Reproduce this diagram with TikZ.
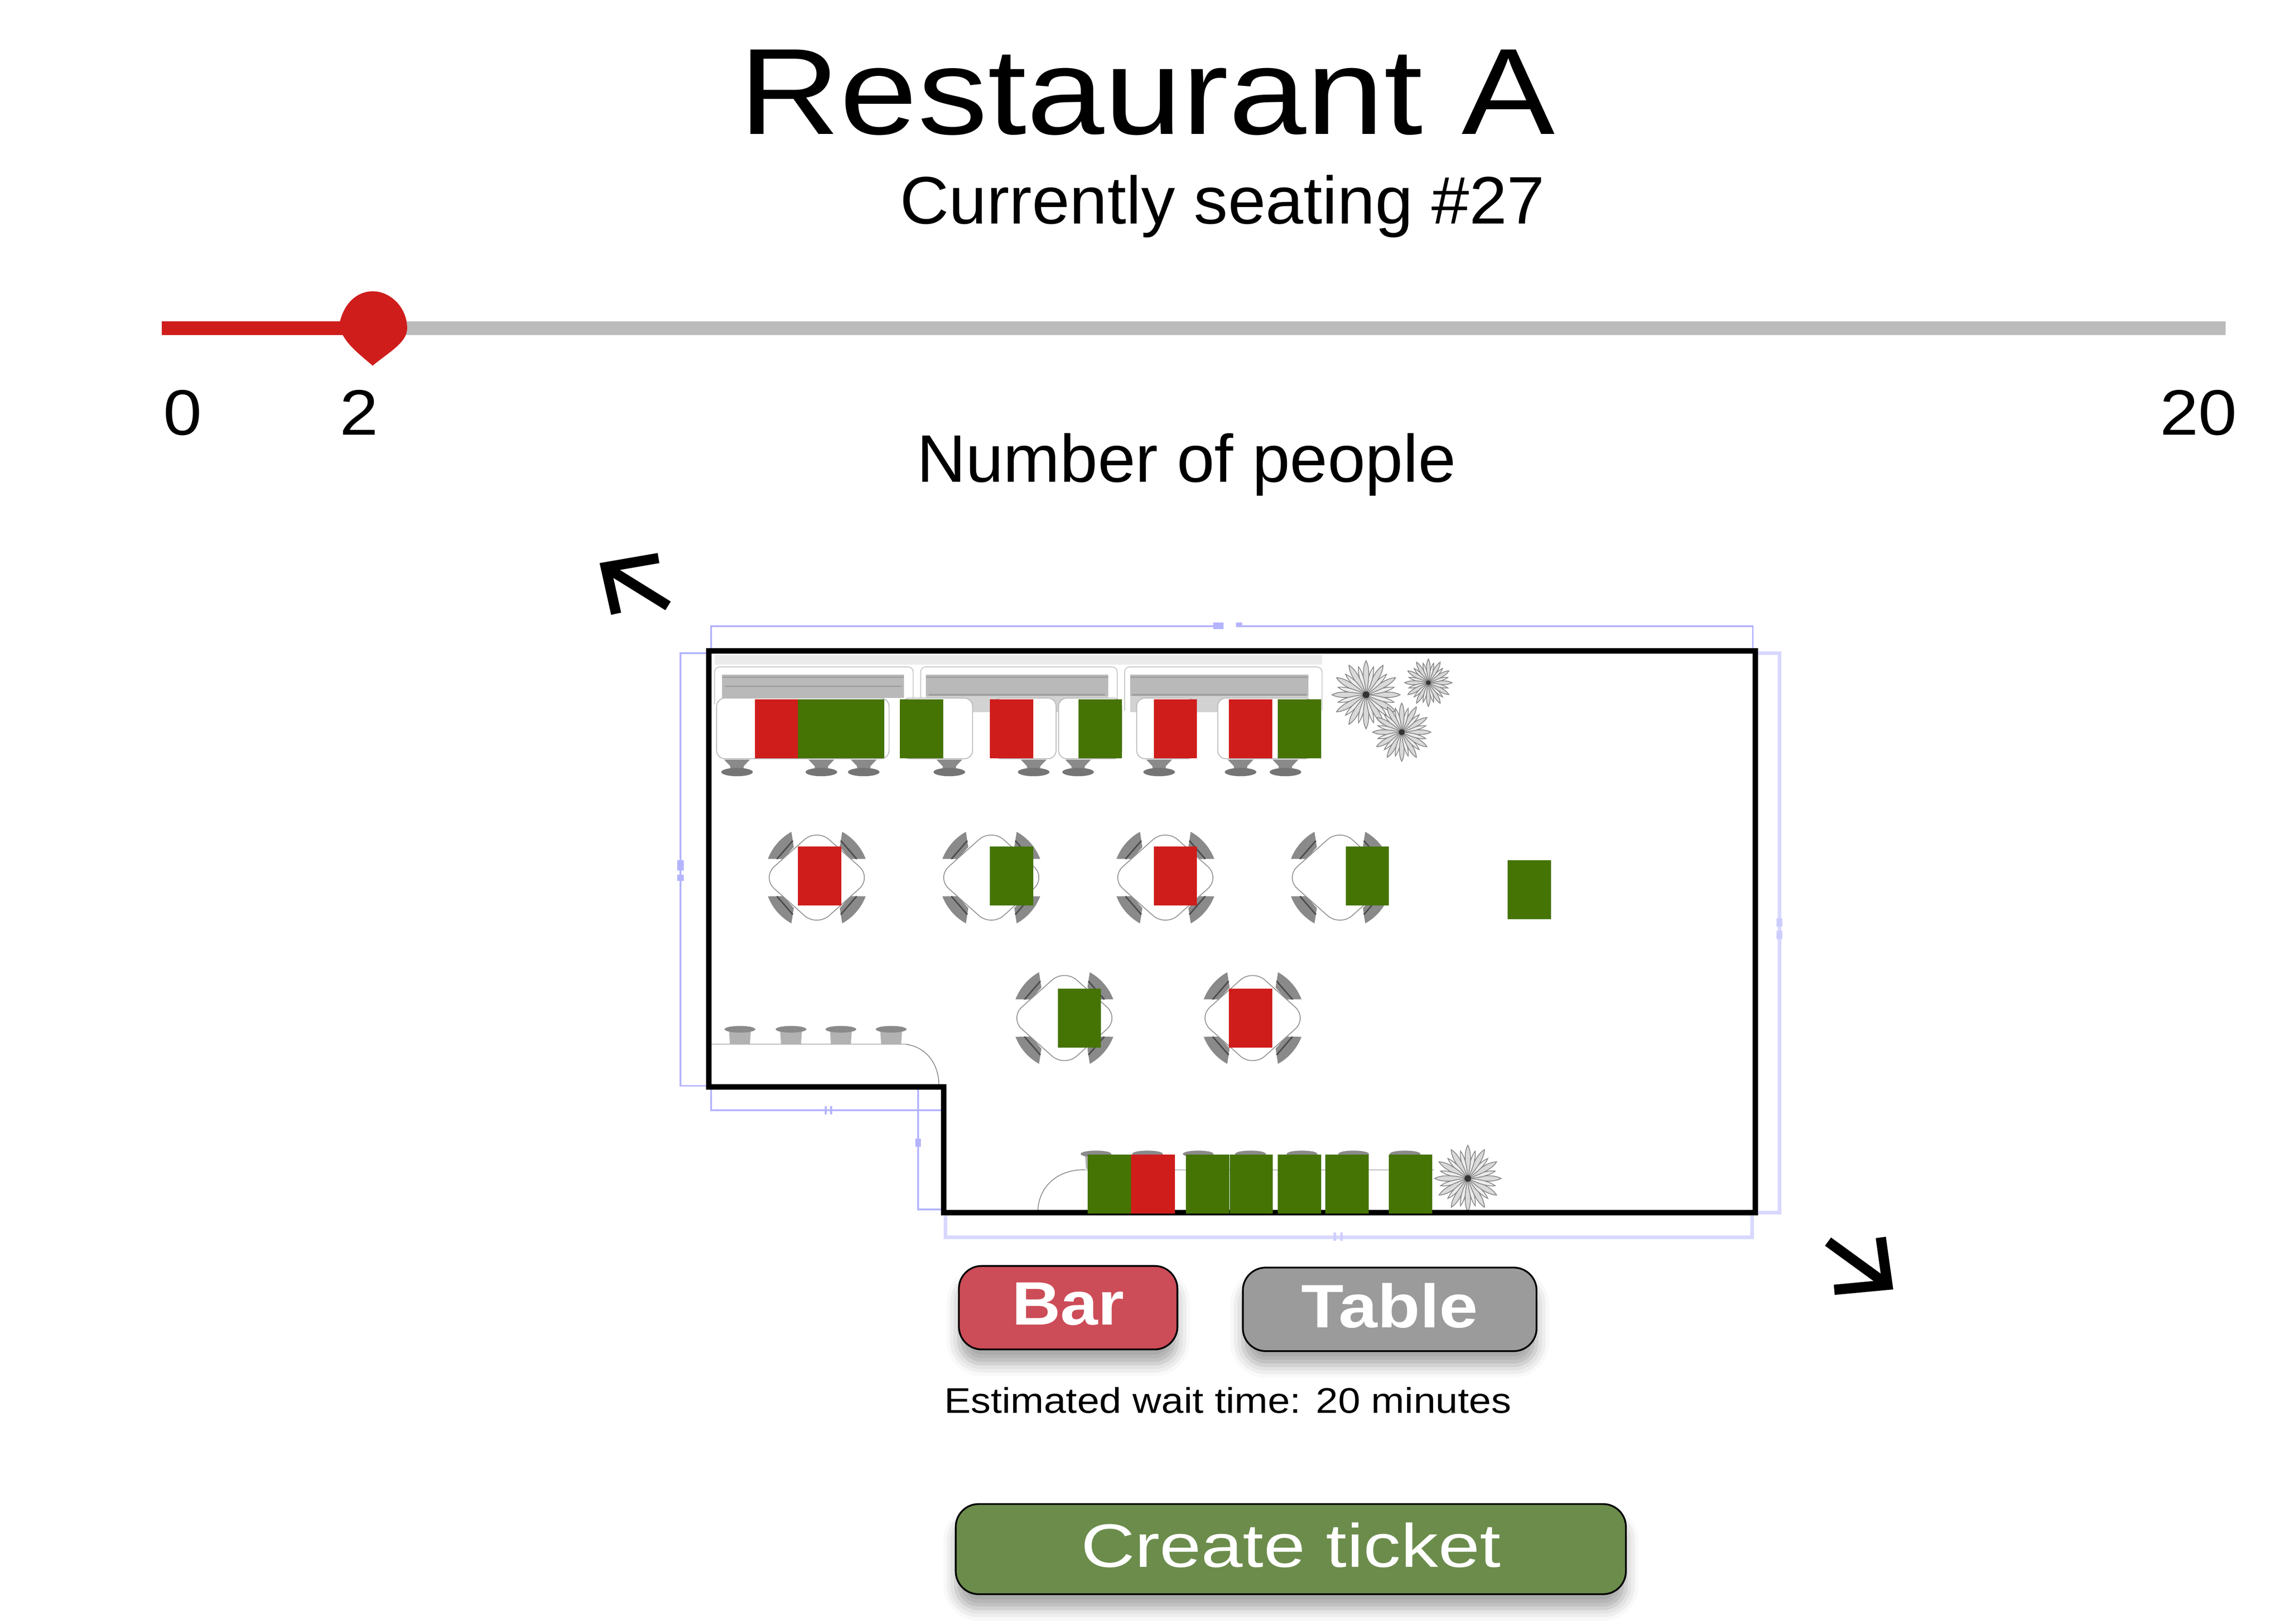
\documentclass[tikz,border=0pt]{standalone}
\usepackage{fontspec}
\setmainfont{Liberation Sans}
\usetikzlibrary{shadows.blur}
\newcommand{\uisize}[2]{\fontsize{#1}{#1}\selectfont\addfontfeature{FakeStretch=#2}}
\definecolor{seatred}{HTML}{CF1D1B}
\definecolor{seatgreen}{HTML}{457404}
\definecolor{barred}{HTML}{CC4C58}
\definecolor{tablegray}{HTML}{9B9B9B}
\definecolor{ticketgreen}{HTML}{6C8C4C}
\definecolor{trackgray}{HTML}{BBBBBB}
\definecolor{dimblue}{HTML}{B4B4FF}
\definecolor{dimpale}{HTML}{D8D8FF}
\definecolor{chairgray}{HTML}{8A8A8A}
\tikzset{
  stool/.pic={
    \fill[chairgray] (-.31,.2) -- (.31,.2) -- (.16,.04) -- (.16,-.1) -- (-.16,-.1) -- (-.16,.04) -- cycle;
    \fill[chairgray!85!black] (0,-.1) ellipse (.38 and .1);
  },
  barstool/.pic={
    \fill[gray!60] (-.27,0) -- (.27,0) -- (.24,-.42) -- (-.24,-.42) -- cycle;
    \fill[chairgray] (0,-.06) ellipse (.37 and .08);
  },
  tablechair/.pic={
    \fill[chairgray] (-20:1.26) arc[start angle=-20,end angle=20,radius=1.26] -- (12:.92) -- (-12:.92) -- cycle;
    \draw[gray!60!black,line width=1pt] (-16:1.06) -- (16:1.06);
  },
  roundtable/.pic={
    \pic[rotate=41] {tablechair};
    \pic[rotate=139] {tablechair};
    \pic[rotate=221] {tablechair};
    \pic[rotate=319] {tablechair};
    \draw[gray!85,line width=.6pt,fill=white,rounded corners=.4cm] (-1.32,0) -- (0,1.18) -- (1.32,0) -- (0,-1.18) -- cycle;
  },
  plant/.pic={
    \foreach \a in {0,30,...,330} {
      \draw[gray,line width=.5pt,fill=gray!30] (0,0) .. controls ({\a+12}:.5) and ({\a+8}:.8) .. (\a:1) .. controls ({\a-8}:.8) and ({\a-12}:.5) .. (0,0);
      \draw[gray,line width=.5pt,fill=gray!15] (0,0) .. controls ({\a+26}:.4) and ({\a+22}:.65) .. ({\a+15}:.85) .. controls ({\a+8}:.65) and ({\a+4}:.4) .. (0,0);
    }
    \fill[black!80] (0,0) circle (.1);
  },
  bigtext/.style={anchor=base west,inner sep=0pt},
  pushbutton/.style={draw=black,line width=1.2pt,rounded corners=.55cm,text=white,text depth=.2cm,
    blur shadow={shadow xshift=0pt,shadow yshift=-.34cm,shadow blur radius=.3cm,shadow opacity=35}},
  viewarrow/.style={line width=7pt,black,miter limit=10},
  wall/.style={line width=3.8pt,black,miter limit=10},
  dimline/.style={dimblue,line width=1.2pt},
  dimthick/.style={dimpale,line width=2.6pt},
  seat/.style={minimum width=1.04cm,minimum height=1.42cm,inner sep=0pt,outer sep=0pt}
}
\begin{document}
\begin{tikzpicture}
  \useasboundingbox (0,0) rectangle (55,-39.08);

  \node[bigtext,font=\uisize{84}{1.14}] (title) at (17.78,-3.23) {Restaurant A};
  \node[bigtext,font=\uisize{46}{1.01}] (seating) at (21.66,-5.38) {Currently seating \#27};

  \coordinate (trackstart) at (3.89,-7.9);
  \coordinate (trackend) at (53.57,-7.9);
  \coordinate (knob) at (8.97,-7.9);
  \draw[trackgray,line width=9.4pt] (trackstart) -- (trackend);
  \draw[seatred,line width=9.4pt] (trackstart) -- (knob);
  \fill[seatred] (8.16,-7.85) .. controls (8.25,-7.3) and (8.6,-7.01) .. (8.97,-7.01)
    .. controls (9.4,-7.01) and (9.8,-7.4) .. (9.8,-7.9)
    .. controls (9.8,-8.25) and (9.35,-8.48) .. (8.97,-8.8)
    .. controls (8.6,-8.48) and (8.28,-8.25) .. (8.16,-7.85) -- cycle;
  \node[bigtext,font=\uisize{44}{1.08}] (zero) at (3.92,-10.47) {0};
  \node[bigtext,font=\uisize{44}{1.08}] (two) at (8.17,-10.47) {2};
  \node[bigtext,font=\uisize{44}{1.08}] (twenty) at (51.98,-10.47) {20};
  \node[bigtext,font=\uisize{46}{1.01}] (people) at (22.06,-11.6) {Number of people};

  \coordinate (nwtail) at (16.08,-14.58);
  \coordinate (nwtip) at (14.58,-13.65);
  \coordinate (nwtop) at (15.85,-13.43);
  \coordinate (nwleft) at (14.83,-14.77);
  \draw[viewarrow] (nwtop) -- (nwtip) -- (nwleft);
  \draw[viewarrow] (nwtip) -- (nwtail);
  \coordinate (setail) at (44,-29.88);
  \coordinate (setip) at (45.43,-30.92);
  \coordinate (setop) at (45.27,-29.78);
  \coordinate (sebot) at (44.15,-31.04);
  \draw[viewarrow] (setop) -- (setip) -- (sebot);
  \draw[viewarrow] (setip) -- (setail);

  % dimensions
  \draw[dimline] (17.12,-15.66) -- (17.12,-15.07) -- (42.19,-15.07) -- (42.19,-15.66);
  \draw[dimline] (17.07,-15.72) -- (16.38,-15.72) -- (16.38,-26.13) -- (17.07,-26.13);
  \draw[dimthick] (42.25,-15.72) -- (42.83,-15.72) -- (42.83,-29.18) -- (42.25,-29.18);
  \draw[dimthick] (22.76,-29.18) -- (22.76,-29.78) -- (42.17,-29.78) -- (42.17,-29.18);
  \draw[dimline] (17.12,-26.15) -- (17.12,-26.72) -- (22.76,-26.72);
  \draw[dimline] (22.71,-26.11) -- (22.1,-26.11) -- (22.1,-29.11) -- (22.71,-29.11);
  \fill[white] (29.45,-15) rectangle (29.75,-15.14);
  \fill[dimblue] (29.2,-14.98) rectangle (29.45,-15.14) (29.75,-14.98) rectangle (29.9,-15.08);
  \fill[dimblue] (16.3,-20.7) rectangle (16.46,-20.95) (16.3,-21.05) rectangle (16.46,-21.2);
  \fill[dimpale!70!dimblue] (42.76,-22.1) rectangle (42.9,-22.3) (42.76,-22.4) rectangle (42.9,-22.6);
  \fill[dimblue] (19.85,-26.62) rectangle (19.9,-26.82) (19.98,-26.62) rectangle (20.03,-26.82);
  \fill[dimblue] (22.03,-27.4) rectangle (22.17,-27.6);
  \fill[dimpale!70!dimblue] (32.1,-29.66) rectangle (32.16,-29.86) (32.26,-29.66) rectangle (32.32,-29.86);

  % booths on the top wall
  \fill[gray!16] (17.2,-15.76) rectangle (31.82,-15.99);
  \draw[gray!45,line width=.6pt,rounded corners=.12cm,fill=white] (17.2,-16.95) -- (17.2,-16.05) -- (21.98,-16.05) -- (21.98,-16.95);
  \draw[gray!45,line width=.6pt,rounded corners=.12cm,fill=white] (22.16,-17.1) -- (22.16,-16.05) -- (26.89,-16.05) -- (26.89,-17.1);
  \draw[gray!45,line width=.6pt,rounded corners=.12cm,fill=white] (27.07,-17.1) -- (27.07,-16.05) -- (31.82,-16.05) -- (31.82,-17.1);
  \fill[gray!55] (17.38,-16.24) rectangle (21.76,-16.8);
  \fill[gray!35] (22.29,-16.24) rectangle (26.67,-17.14);
  \fill[gray!55] (22.29,-16.24) rectangle (26.67,-16.75);
  \fill[gray!35] (27.2,-16.24) rectangle (31.49,-17.14);
  \fill[gray!55] (27.2,-16.24) rectangle (31.49,-16.75);
  \draw[gray!75,line width=1pt] (17.38,-16.3) -- (21.76,-16.3) (17.45,-16.52) -- (21.7,-16.52);
  \draw[gray!75,line width=1pt] (22.29,-16.3) -- (26.67,-16.3) (22.35,-16.72) -- (26.6,-16.72);
  \draw[gray!75,line width=1pt] (27.2,-16.3) -- (31.49,-16.3) (27.25,-16.72) -- (31.45,-16.72);
  \begin{scope}[every path/.style={draw=gray!55,line width=.6pt,fill=white,rounded corners=.2cm}]
    \path (17.25,-16.8) rectangle (21.4,-18.26);
    \path (21.7,-16.8) rectangle (23.41,-18.26);
    \path (23.9,-16.8) rectangle (25.42,-18.26);
    \path (25.48,-16.8) rectangle (27,-18.26);
    \path (27.36,-16.8) rectangle (28.78,-18.26);
    \path (29.31,-16.8) rectangle (31.6,-18.26);
  \end{scope}
  \pic at (17.74,-18.48) {stool};
  \pic at (19.77,-18.48) {stool};
  \pic at (20.79,-18.48) {stool};
  \pic at (22.85,-18.48) {stool};
  \pic at (24.88,-18.48) {stool};
  \pic at (25.95,-18.48) {stool};
  \pic at (27.9,-18.48) {stool};
  \pic at (29.86,-18.48) {stool};
  \pic at (30.94,-18.48) {stool};

  \pic at (19.66,-21.12) {roundtable};
  \pic at (23.86,-21.12) {roundtable};
  \pic at (28.05,-21.12) {roundtable};
  \pic at (32.25,-21.12) {roundtable};
  \pic at (25.62,-24.5) {roundtable};
  \pic at (30.15,-24.5) {roundtable};

  \pic[scale=.82] at (32.88,-16.72) {plant};
  \pic[scale=.57] at (34.38,-16.43) {plant};
  \pic[scale=.7] at (33.74,-17.62) {plant};
  \pic[scale=.8] at (35.33,-28.36) {plant};

  % bars
  \draw[gray!40,line width=1pt] (17.12,-25.13) -- (21.8,-25.13);
  \draw[gray,line width=.5pt] (21.8,-25.13) .. controls (22.3,-25.2) and (22.6,-25.6) .. (22.6,-26.13);
  \pic at (17.81,-24.71) {barstool};
  \pic at (19.04,-24.71) {barstool};
  \pic at (20.24,-24.71) {barstool};
  \pic at (21.45,-24.71) {barstool};
  \draw[gray!40,line width=1pt] (26.1,-28.15) -- (34.52,-28.15);
  \draw[gray,line width=.5pt] (24.98,-29.14) .. controls (25,-28.6) and (25.4,-28.15) .. (26.1,-28.15);
  \pic at (26.38,-27.71) {barstool};
  \pic at (27.62,-27.71) {barstool};
  \pic at (28.84,-27.71) {barstool};
  \pic at (30.1,-27.71) {barstool};
  \pic at (31.34,-27.71) {barstool};
  \pic at (32.58,-27.71) {barstool};
  \pic at (33.82,-27.71) {barstool};

  \draw[wall] (17.06,-15.66) -- (42.25,-15.66) -- (42.25,-29.18) -- (22.71,-29.18) -- (22.71,-26.16) -- (17.06,-26.16) -- cycle;

  \begin{scope}[every node/.style={seat,fill=seatred}]
    \node (red1) at (18.69,-17.54) {};
    \node (red2) at (24.35,-17.54) {};
    \node (red3) at (28.29,-17.54) {};
    \node (red4) at (30.1,-17.54) {};
    \node (red5) at (19.73,-21.08) {};
    \node (red6) at (28.29,-21.08) {};
    \node (red7) at (30.1,-24.5) {};
    \node[minimum width=1.06cm] (red8) at (27.75,-28.5) {};
  \end{scope}

  \begin{scope}[every node/.style={seat,fill=seatgreen}]
    \node (green1) at (19.73,-17.54) {};
    \node (green2) at (20.77,-17.54) {};
    \node (green3) at (22.18,-17.54) {};
    \node (green4) at (26.48,-17.54) {};
    \node (green5) at (31.28,-17.54) {};
    \node (green6) at (24.35,-21.08) {};
    \node (green7) at (32.91,-21.08) {};
    \node (green8) at (36.81,-21.41) {};
    \node (green9) at (25.98,-24.5) {};
    \node (green10) at (26.7,-28.5) {};
    \node (green11) at (29.07,-28.5) {};
    \node (green12) at (30.12,-28.5) {};
    \node (green13) at (31.28,-28.5) {};
    \node (green14) at (32.42,-28.5) {};
    \node (green15) at (33.95,-28.5) {};
  \end{scope}

  \node[pushbutton,fill=barred,minimum width=5.26cm,minimum height=2.01cm,font=\bfseries\uisize{42}{1.1}] (bar) at (25.71,-31.47) {Bar};
  \node[pushbutton,fill=tablegray,minimum width=7.07cm,minimum height=2.01cm,font=\bfseries\uisize{42}{1.135}] (table) at (33.45,-31.51) {Table};
  \node[bigtext,font=\uisize{24.4}{1.12}] (wait) at (22.72,-34.01) {Estimated wait time: 20 minutes};
  \node[pushbutton,fill=ticketgreen,minimum width=16.13cm,minimum height=2.17cm,font=\uisize{42}{1.22}] (ticket) at (31.07,-37.28) {Create ticket};
\end{tikzpicture}
\end{document}
